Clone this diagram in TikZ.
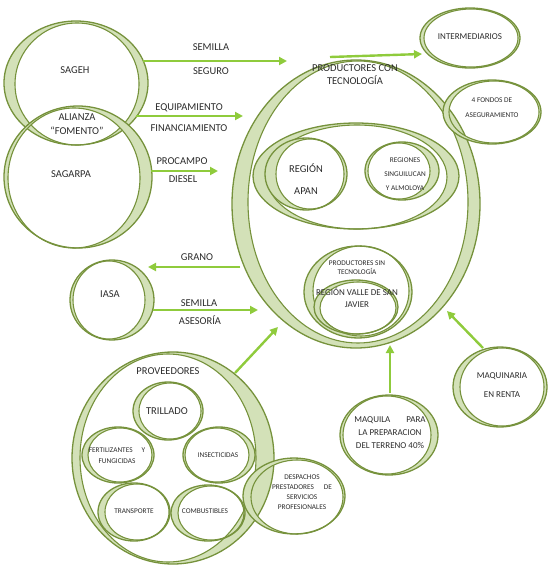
\documentclass[tikz,border=0pt]{standalone}
\usepackage{fontspec}
\setmainfont{Carlito}
\usetikzlibrary{shapes.geometric,arrows.meta}
\definecolor{olive}{HTML}{76923C}
\definecolor{cresfill}{HTML}{D3E1B8}
\definecolor{arrowgreen}{HTML}{8FCB3C}
\definecolor{txt}{HTML}{2B2B2B}
\tikzset{
  cres/.style={fill=cresfill},
  ringline/.style={draw=olive, line width=1.1pt},
  ringnode/.style={ellipse, draw=olive, line width=1.3pt, inner sep=0pt},
  conn/.style={draw=arrowgreen, line width=2.4pt, -{Triangle[length=8pt,width=8pt]}},
  big/.style={font=\fontsize{10.5}{12}\selectfont, text=txt, align=center, inner sep=0pt},
  mid/.style={font=\fontsize{9}{11}\selectfont, text=txt, align=center, inner sep=0pt},
  small/.style={font=\fontsize{7.3}{9}\selectfont, text=txt, align=center, inner sep=0pt},
}
\newcommand\ringshape[9]{%
  \fill[cres, even odd rule] (#2,#3) ellipse[x radius=#4, y radius=#5]
     ({#2+#6},{#3+#7}) ellipse[x radius=#8, y radius=#9];
  \draw[ringline] ({#2+#6},{#3+#7}) ellipse[x radius=#8, y radius=#9];
  \node[ringnode, minimum width={2*#4pt}, minimum height={2*#5pt}] (#1) at (#2,#3) {};
}
\begin{document}
\begin{tikzpicture}[x=1pt,y=-1pt]
\useasboundingbox (0,0) rectangle (553,568);
% rings
\ringshape{sageh}{76}{83}{72}{62}{1}{1}{62}{61}
\ringshape{sagarpa}{78}{177}{74}{71}{-4}{1}{66}{70}
\ringshape{pct}{356}{204}{124}{144}{2}{-2}{110}{141}
\ringshape{regs}{356}{176}{103}{53}{1}{1}{90}{52}
\ringshape{apan}{306}{174}{41}{36}{4}{0}{34}{35}
\ringshape{singui}{402}{171}{37}{29}{-3}{0}{31}{28}
\ringshape{interm}{470}{38}{50}{30}{1}{0}{47}{29}
\ringshape{fondos}{492}{112}{49}{32}{2}{0}{45}{31}
\ringshape{psin}{358}{292}{54}{46}{3}{-1}{48}{45}
\ringshape{valle}{356}{307}{42}{27}{2}{1}{38}{26}
\ringshape{iasa}{112}{300}{42}{40}{-3}{0}{36}{39}
\ringshape{prov}{173}{458}{101}{106}{-5}{0}{88}{104}
\ringshape{trill}{168}{411}{35}{29}{2}{0}{31}{28}
\ringshape{fert}{118}{455}{36}{28}{2}{0}{32}{27}
\ringshape{insect}{219}{455}{36}{28}{-2}{0}{32}{27}
\ringshape{transp}{134}{512}{36}{29}{3}{0}{32}{28}
\ringshape{comb}{208}{513}{37}{28}{3}{0}{33}{27}
\ringshape{desp}{294}{496}{51}{38}{3}{1}{46}{37}
\ringshape{maquila}{389}{435}{49}{40}{-2}{0}{44}{39}
\ringshape{maqren}{500}{387}{47}{40}{2}{0}{42}{39}
% texts in rings
\node[big] (tsageh) at (75,70) {SAGEH};
\node[big] (talianza) at (77,124) {ALIANZA\\[2pt]“FOMENTO”};
\node[big] (tsagarpa) at (71,174) {SAGARPA};
\node[big] (tpct) at (355,75) {PRODUCTORES CON\\[1pt]TECNOLOGÍA};
\node[big] (tapan) at (306,179) {REGIÓN\\[10pt]APAN};
\node[small] (tsingui) at (405,174) {REGIONES\\[5pt]SINGUILUCAN\\[5pt]Y ALMOLOYA};
\node[mid] (tinterm) at (470,37) {INTERMEDIARIOS};
\node[small] (tfondos) at (492,108) {4 FONDOS DE\\[6pt]ASEGURAMIENTO};
\node[small] (tpsin) at (357,268) {PRODUCTORES SIN\\TECNOLOGÍA};
\node[mid] (tvalle) at (357,298) {REGIÓN VALLE DE SAN\\[1pt]JAVIER};
\node[big] (tiasa) at (110,294) {IASA};
\node[big] (tprov) at (168,371) {PROVEEDORES};
\node[big] (ttrill) at (167,411) {TRILLADO};
\node[small] (tfert) at (117,456) {FERTILIZANTES\hspace{9pt}Y\\[2pt]FUNGICIDAS};
\node[small] (tinsect) at (218,455) {INSECTICIDAS};
\node[small] (ttransp) at (134,511) {TRANSPORTE};
\node[small] (tcomb) at (205,511) {COMBUSTIBLES};
\node[small] (tdesp) at (302,492) {DESPACHOS\\[1pt]PRESTADORES\hspace{10pt}DE\\[1pt]SERVICIOS\\[1pt]PROFESIONALES};
\node[mid] (tmaquila) at (390,433) {MAQUILA\hspace{16pt}PARA\\[2pt]LA PREPARACION\\[2pt]DEL TERRENO 40\%};
\node[mid] (tmaqren) at (502,385) {MAQUINARIA\\[8pt]EN RENTA};
% arrow end points
\coordinate (a1s) at (143,61);  \coordinate (a1e) at (287,61);
\coordinate (a2s) at (330,57);  \coordinate (a2e) at (422,54);
\coordinate (a3s) at (136,116); \coordinate (a3e) at (243,116);
\coordinate (a4s) at (151,171); \coordinate (a4e) at (218,171);
\coordinate (a5s) at (240,267); \coordinate (a5e) at (148,267);
\coordinate (a6s) at (153,310); \coordinate (a6e) at (258,310);
\coordinate (a7s) at (235,373); \coordinate (a7e) at (278,327);
\coordinate (a8s) at (390,393); \coordinate (a8e) at (390,345);
\coordinate (a9s) at (483,348); \coordinate (a9e) at (447,311);
\draw[conn] (a1s) -- (a1e);
\draw[conn] (a2s) -- (a2e);
\draw[conn] (a3s) -- (a3e);
\draw[conn] (a4s) -- (a4e);
\draw[conn] (a5s) -- (a5e);
\draw[conn] (a6s) -- (a6e);
\draw[conn] (a7s) -- (a7e);
\draw[conn] (a8s) -- (a8e);
\draw[conn] (a9s) -- (a9e);
% arrow labels
\node[big] (lsem) at (211,47) {SEMILLA};
\node[big] (lseg) at (211,71) {SEGURO};
\node[big] (lequip) at (189,108) {EQUIPAMIENTO};
\node[big] (lfin) at (189,128) {FINANCIAMIENTO};
\node[big] (lproc) at (182,161) {PROCAMPO};
\node[big] (ldies) at (183,179) {DIESEL};
\node[big] (lgrano) at (197,257) {GRANO};
\node[big] (lsem2) at (199,303) {SEMILLA};
\node[big] (lases) at (200,320) {ASESORÍA};
\end{tikzpicture}
\end{document}
